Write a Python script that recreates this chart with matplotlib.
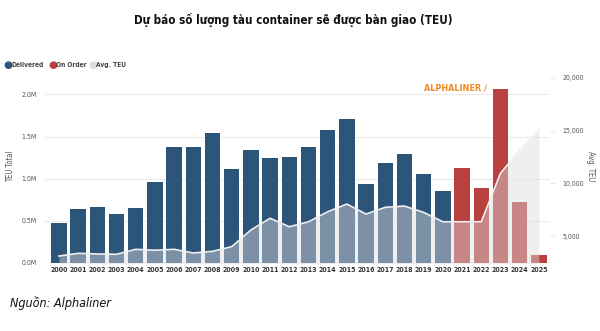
import matplotlib.pyplot as plt
import numpy as np

years = [str(y) for y in range(2000, 2026)]
delivered = [0.468, 0.634, 0.660, 0.578, 0.653, 0.955, 1.374, 1.370, 1.540, 1.113,
             1.338, 1.247, 1.255, 1.378, 1.572, 1.710, 0.938, 1.188, 1.295, 1.057,
             0.848, None, None, None, None, None]
on_order = [None] * 21 + [1.128, 0.884, 2.060, 0.717, 0.091]
avg_teu = [3100, 3360, 3300, 3270, 3740, 3650, 3740, 3390, 3550, 3990,
           5570, 6680, 5880, 6350, 7300, 8030, 7080, 7720, 7840, 7240,
           6350, 6350, 6350, 10940, 13140, 15040]

blue = '#2d5479'
red = '#b8413f'
narrow = dict(family='DejaVu Sans', fontstretch='condensed')

fig = plt.figure(figsize=(6, 3.31), dpi=100)
ax = fig.add_axes([0.0733, 0.2063, 0.843, 0.582])
x = np.arange(len(years))

d = np.array([v if v is not None else 0 for v in delivered]) * 1e6
o = np.array([v if v is not None else 0 for v in on_order]) * 1e6
ax.bar(x, d, width=0.8, color=blue, zorder=2)
ax.bar(x, o, width=0.8, color=red, zorder=2)

ax.set_xlim(-0.78, 25.57)
ax.set_ylim(0, 2.29e6)
ax.set_yticks([0, 0.5e6, 1.0e6, 1.5e6, 2.0e6])
ax.set_yticklabels(['0.0M', '0.5M', '1.0M', '1.5M', '2.0M'], **narrow)
ax.set_xticks(x)
ax.set_xticklabels(years, fontweight='bold', **narrow)
ax.grid(axis='y', color='#ececec', linewidth=0.8, zorder=0)
ax.tick_params(axis='both', length=0, labelsize=5, colors='#555555')
ax.tick_params(axis='x', pad=3, colors='#333333')
ax.tick_params(axis='y', pad=5)
for s in ax.spines.values():
    s.set_visible(False)
ax.set_ylabel('TEU Total', fontsize=5.5, color='#555555', labelpad=5, **narrow)

# average TEU as a translucent area drawn over the bars
ax2 = ax.twinx()
ax2.set_ylim(2470, 20730)
ax2.fill_between(x, 0, avg_teu, color='#dddddd', alpha=0.45, linewidth=0, zorder=3)
ax2.plot(x, avg_teu, color='#f0f0f0', linewidth=1.2, zorder=4)
ax2.set_yticks([5000, 10000, 15000, 20000])
ax2.set_yticklabels(['5,000', '10,000', '15,000', '20,000'], **narrow)
ax2.tick_params(axis='y', length=3, width=0.6, color='#dddddd', labelsize=5,
                colors='#555555', pad=6)
for s in ax2.spines.values():
    s.set_visible(False)
ax2.set_ylabel('Avg. TEU', fontsize=5.5, color='#555555', rotation=270,
               labelpad=8, **narrow)

# legend
legend_items = [('Delivered', blue, 0.006), ('On Order', red, 0.081),
                ('Avg. TEU', '#dddddd', 0.147)]
for label, col, lx in legend_items:
    fig.text(lx, 0.805, '\u25CF', fontsize=7.5, color=col, va='center')
    fig.text(lx + 0.0125, 0.805, label, fontsize=4.8, color='#444444',
             fontweight='bold', va='center', **narrow)

fig.text(0.812, 0.736, 'ALPHALINER \u2215', fontsize=6.5, color='#f08a24',
         fontweight='bold', ha='right', va='center', **narrow)

fig.text(0.488, 0.94, 'Dự báo số lượng tàu container sẽ được bàn giao (TEU)',
         fontsize=8.4, fontweight='bold', ha='center', va='center',
         color='#111111', **narrow)
fig.text(0.017, 0.085, 'Nguồn: Alphaliner', fontsize=9, style='italic',
         color='#111111', va='center', **narrow)

fig.savefig('out.png', dpi=100)
